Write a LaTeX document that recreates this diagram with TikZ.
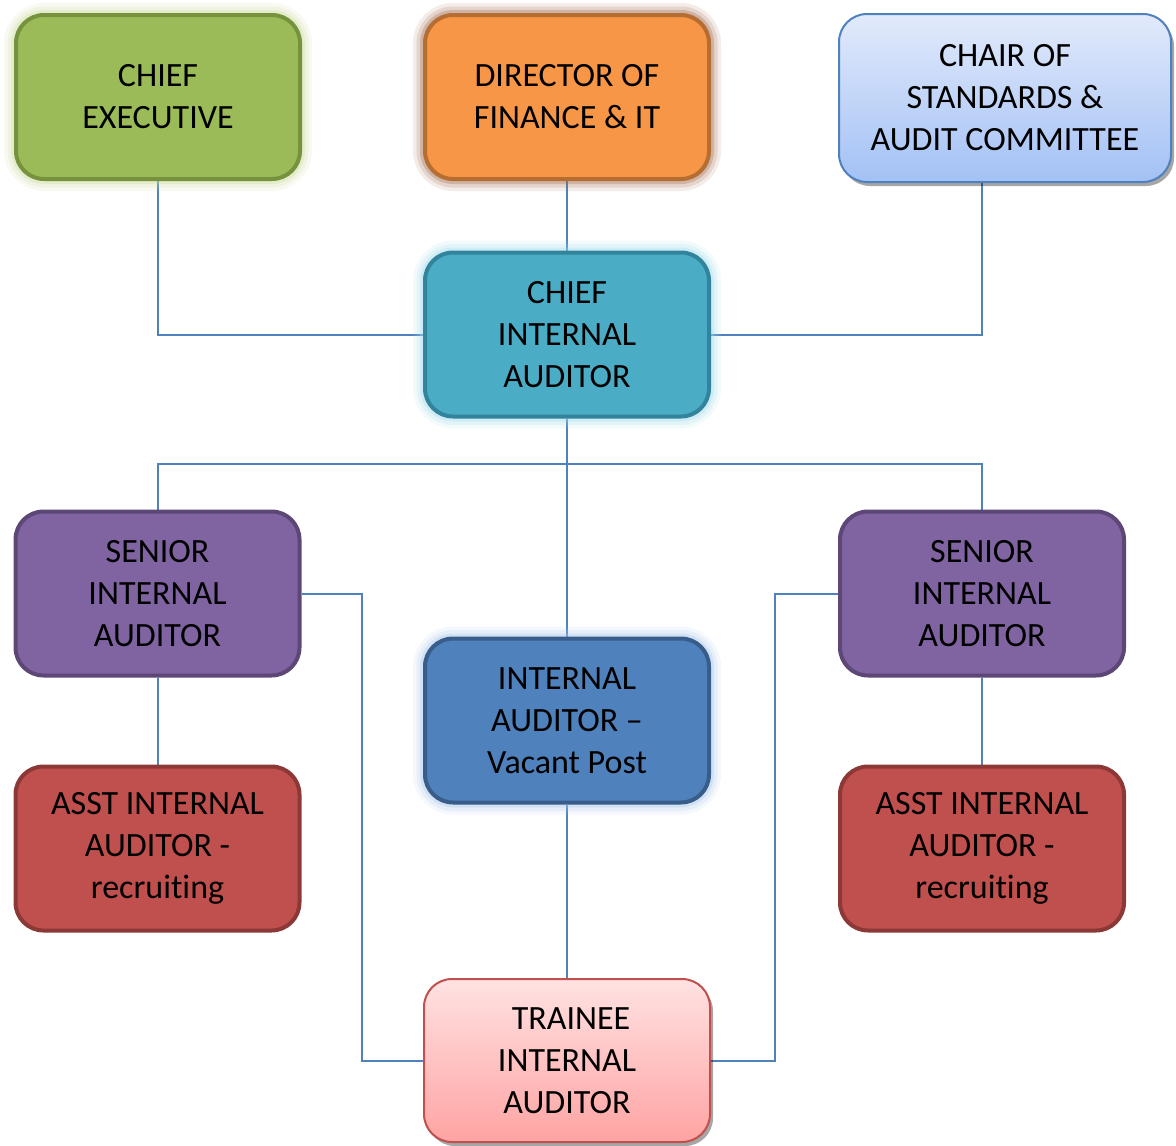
\documentclass[tikz,border=0pt]{standalone}
\usepackage{fontspec}
\setmainfont{Carlito}[Ligatures={NoCommon}]
\usetikzlibrary{shadows}
\definecolor{conn}{HTML}{4F81BD}
\definecolor{grnF}{HTML}{9BBB59}\definecolor{grnD}{HTML}{76923C}\definecolor{grnG}{HTML}{C9DD9A}
\definecolor{orF}{HTML}{F79646}\definecolor{orD}{HTML}{B66D31}\definecolor{orG}{HTML}{A0684A}
\definecolor{chT}{HTML}{E2EAFB}\definecolor{chB}{HTML}{A3C1F5}\definecolor{chD}{HTML}{4F81BD}
\definecolor{ciF}{HTML}{4BACC6}\definecolor{ciD}{HTML}{31849B}\definecolor{ciG}{HTML}{9EDCEE}
\definecolor{puF}{HTML}{8064A2}\definecolor{puD}{HTML}{5C4776}
\definecolor{iaF}{HTML}{4F81BD}\definecolor{iaD}{HTML}{385D8A}\definecolor{iaG}{HTML}{A9C6EE}
\definecolor{reF}{HTML}{C0504D}\definecolor{reD}{HTML}{8C3836}
\definecolor{trT}{HTML}{FFE2E2}\definecolor{trB}{HTML}{FFA3A3}\definecolor{trD}{HTML}{C0504D}
\pgfdeclarelayer{bg}\pgfsetlayers{bg,main}
\tikzset{
  box/.style={rectangle, rounded corners=28pt, line width=4pt, align=center,
    font=\fontsize{34}{42}\selectfont, inner sep=0pt},
  glow/.style={preaction={draw=#1, line width=24pt, draw opacity=0.12},
               preaction={draw=#1, line width=17pt, draw opacity=0.18},
               preaction={draw=#1, line width=10pt, draw opacity=0.3}},
  wide/.style={minimum width=284pt, minimum height=164pt},
  conline/.style={draw=conn, line width=2pt},
  softshadow/.style={drop shadow={shadow xshift=3pt, shadow yshift=-4pt, fill=black, opacity=0.35}}
}
\begin{document}
\begin{tikzpicture}[x=1pt,y=-1pt]
\useasboundingbox (0,0) rectangle (1176,1146);
% nodes
\node[box, wide, fill=grnF, draw=grnD, glow=grnG] (ce) at (158,97) {CHIEF\\EXECUTIVE};
\node[box, wide, fill=orF, draw=orD, glow=orG] (dir) at (567,97) {DIRECTOR OF\\FINANCE \& IT};
\node[box, line width=2pt, minimum width=332pt, minimum height=168pt, draw=chD,
      top color=chT, bottom color=chB, softshadow] (ch) at (1005,98) {CHAIR OF\\STANDARDS \&\\AUDIT COMMITTEE};
\node[box, wide, fill=ciF, draw=ciD, glow=ciG] (cia) at (567,334.5) {CHIEF\\INTERNAL\\AUDITOR};
\node[box, wide, fill=puF, draw=puD] (sl) at (157.5,593.5) {SENIOR\\INTERNAL\\AUDITOR};
\node[box, wide, fill=puF, draw=puD] (sr) at (982,593.5) {SENIOR\\INTERNAL\\AUDITOR};
\node[box, wide, fill=iaF, draw=iaD, glow=iaG] (ia) at (567,720.5) {INTERNAL\\AUDITOR –\\Vacant Post};
\node[box, wide, fill=reF, draw=reD] (al) at (157.5,848.5) {ASST INTERNAL\\AUDITOR -\\recruiting};
\node[box, wide, fill=reF, draw=reD] (ar) at (982,848.5) {ASST INTERNAL\\AUDITOR -\\recruiting};
\node[box, line width=2pt, minimum width=286pt, minimum height=163pt, draw=trD,
      top color=trT, bottom color=trB, softshadow] (tr) at (567,1060.5) {\hspace{8pt}TRAINEE\\INTERNAL\\AUDITOR};
% connectors
\begin{pgfonlayer}{bg}
\fill[white] (0,0) rectangle (1176,1146);
\draw[conline] (ce.south) |- (cia.west);
\draw[conline] (dir.south) -- (cia.north);
\draw[conline] (sr |- ch.south) |- (cia.east);
\draw[conline] (cia.south) -- (ia.north);
\coordinate (hb) at (567,464);
\draw[conline] (sl.north) |- (hb) -| (sr.north);
\coordinate (lv) at (362,594);
\coordinate (rv) at (775,594);
\draw[conline] (sl.east) -- (sl.east -| lv) |- (tr.west);
\draw[conline] (sr.west) -- (sr.west -| rv) |- (tr.east);
\draw[conline] (sl.south) -- (al.north);
\draw[conline] (sr.south) -- (ar.north);
\draw[conline] (ia.south) -- (tr.north);
\end{pgfonlayer}
\end{tikzpicture}
\end{document}
